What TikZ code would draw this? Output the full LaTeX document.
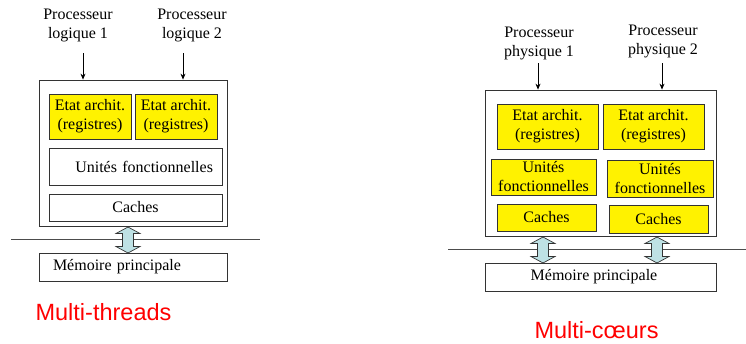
\documentclass[tikz,border=0pt]{standalone}
\usepackage{fontspec}
\setmainfont{Liberation Serif}
\newfontfamily\redfont{Liberation Sans}
\usetikzlibrary{arrows.meta}
\begin{document}
\begin{tikzpicture}[x=1pt,y=-1pt,
  every node/.style={font=\fontsize{16}{19}\selectfont, inner sep=0pt, align=center},
  frame/.style={draw=black!80, line width=0.8pt, fill=white},
  ybox/.style={draw=black!80, line width=0.8pt, fill=yellow},
  wbox/.style={draw=black!80, line width=0.8pt, fill=white},
  arr/.style={-{Stealth[length=6pt,width=5pt]}, line width=0.7pt},
  bus/.style={line width=0.8pt, draw=black!70},
  title/.style={font=\redfont\fontsize{23.5}{26}\selectfont, text=red, anchor=base},
  dbl/.style={draw=black!80, line width=0.7pt, fill={rgb,255:red,190;green,225;blue,228}}
]
\useasboundingbox (0,0) rectangle (746,343);

% ---------- Left : Multi-threads ----------
\node (pl1) at (78,25) {Processeur\\logique 1};
\node (pl2) at (192,25) {Processeur\\logique 2};
\draw[bus] (11,239) coordinate (hl1) -- (260,239) coordinate (hl2);
\node[frame, minimum width=188, minimum height=146] (outL) at (133,153) {};
\coordinate (al1) at (83,53);
\coordinate (al2) at (183,53);
\draw[arr] (al1) -- (al1 |- outL.north);
\draw[arr] (al2) -- (al2 |- outL.north);
\node[ybox, minimum width=82, minimum height=45] (eL1) at (90,116.5) {Etat archit.\\(registres)};
\node[ybox, minimum width=82, minimum height=45] (eL2) at (176,116.5) {Etat archit.\\(registres)};
\node[wbox, minimum width=173, minimum height=37, inner xsep=9pt, text width=155pt, align=right] (uL) at (135.5,166.5) {Unités fonctionnelles};
\node[wbox, minimum width=173, minimum height=27] (cL) at (135.5,207.5) {Caches};
\node[wbox, minimum width=188, minimum height=28, inner xsep=14pt, text width=160pt, align=left] (mL) at (133,267) {Mémoire principale};
\draw[dbl] (128,227) -- (140,233.5) -- (133.5,233.5) -- (133.5,246.5) -- (140,246.5) -- (128,253)
  -- (116,246.5) -- (122.5,246.5) -- (122.5,233.5) -- (116,233.5) -- cycle;
\node[title] (tL) at (103.5,320) {Multi-threads};

% ---------- Right : Multi-coeurs ----------
\node (pp1) at (539,43) {Processeur\\physique 1};
\node (pp2) at (663,41) {Processeur\\physique 2};
\draw[bus] (448,249) coordinate (hr1) -- (746,249) coordinate (hr2);
\node[frame, minimum width=231, minimum height=146] (outR) at (600.5,163) {};
\coordinate (ar1) at (538,63);
\coordinate (ar2) at (662,63);
\draw[arr] (ar1) -- (ar1 |- outR.north);
\draw[arr] (ar2) -- (ar2 |- outR.north);
\node[ybox, minimum width=101, minimum height=45] (eR1) at (547.5,126.5) {Etat archit.\\(registres)};
\node[ybox, minimum width=101, minimum height=45] (eR2) at (653.5,126.5) {Etat archit.\\(registres)};
\node[ybox, minimum width=105, minimum height=36] (uR1) at (543.5,177) {Unités\\fonctionnelles};
\node[ybox, minimum width=106, minimum height=37] (uR2) at (660,178.5) {Unités\\fonctionnelles};
\node[ybox, minimum width=99, minimum height=27] (cR1) at (546.5,217.5) {Caches};
\node[ybox, minimum width=99, minimum height=28] (cR2) at (658.5,219) {Caches};
\node[wbox, minimum width=231, minimum height=28] (mR) at (600.5,277) {\hspace*{-13pt}Mémoire principale};
\foreach \xx in {543,657}{
  \draw[dbl] (\xx,237) -- (\xx+12,243.5) -- (\xx+5.5,243.5) -- (\xx+5.5,256.5) -- (\xx+12,256.5) -- (\xx,263)
    -- (\xx-12,256.5) -- (\xx-5.5,256.5) -- (\xx-5.5,243.5) -- (\xx-12,243.5) -- cycle;
}
\node[title] (tR) at (596.5,338) {Multi-cœurs};
\end{tikzpicture}
\end{document}
